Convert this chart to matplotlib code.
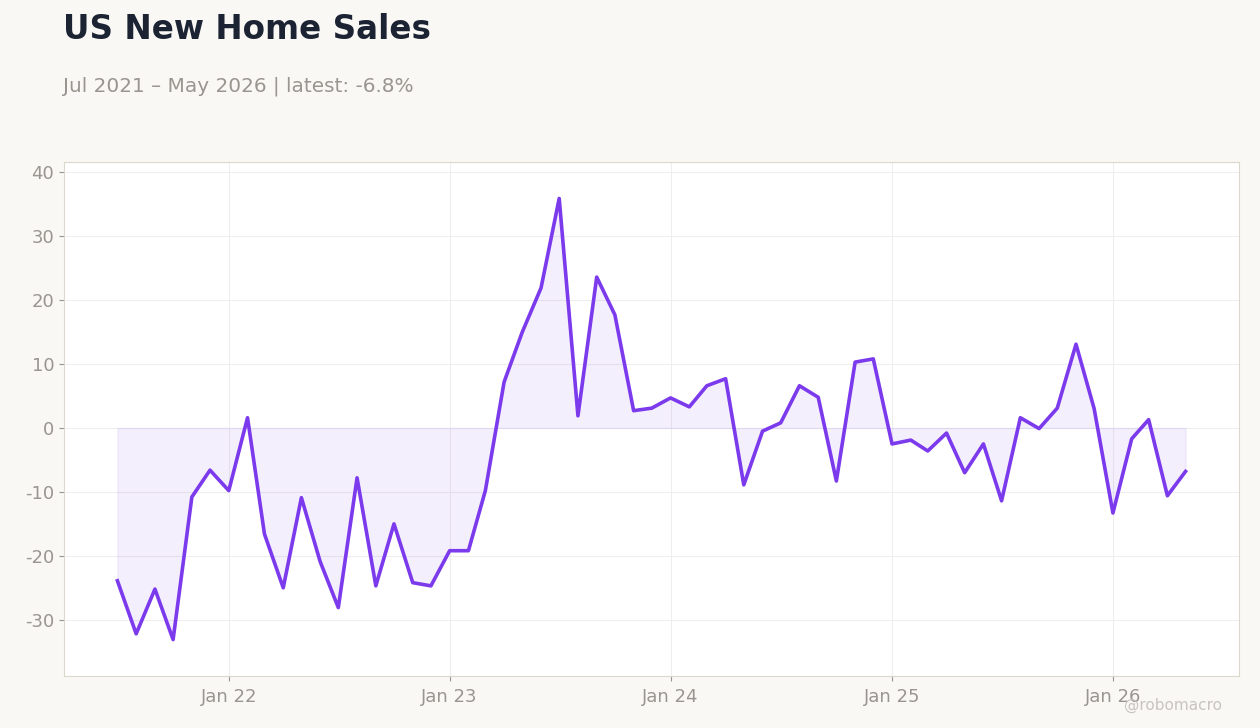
import pandas as pd
import numpy as np
import matplotlib
matplotlib.use('Agg')
import matplotlib.pyplot as plt
import matplotlib.dates as mdates

plt.rcParams['font.family'] = ['DejaVu Sans']
plt.rcParams['axes.unicode_minus'] = False

# monthly % change, Jul 2021 - May 2026
months = pd.date_range('2021-07-01', '2026-05-01', freq='MS')
values = [
    -23.9, -32.2, -25.2, -33.1, -10.8, -6.6,
    -9.8, 1.6, -16.6, -25.0, -10.9, -20.9, -28.1, -7.8, -24.7, -15.0, -24.2, -24.7,
    -19.2, -19.2, -9.8, 7.2, 15.0, 21.9, 35.9, 1.9, 23.6, 17.7, 2.7, 3.1,
    4.7, 3.3, 6.6, 7.7, -8.9, -0.5, 0.8, 6.6, 4.8, -8.3, 10.3, 10.8,
    -2.5, -1.9, -3.6, -0.8, -7.0, -2.5, -11.4, 1.6, -0.1, 3.1, 13.1, 3.0,
    -13.3, -1.7, 1.3, -10.6, -6.8,
]
title = 'US New Home Sales'
subtitle = 'Jul 2021 – May 2026 | latest: -6.8%'

line_color = '#7c3aed'
bg = '#f9f8f5'
tick_color = '#99958f'

fig = plt.figure(figsize=(12.6, 7.28), dpi=100, facecolor=bg)
ax = fig.add_axes([0.0508, 0.0714, 0.9325, 0.7061])
ax.set_facecolor('white')

ax.fill_between(months, values, 0, color=line_color, alpha=0.08, linewidth=1)
ax.plot(months, values, color=line_color, linewidth=2.6)

ax.set_ylim(-38.8, 41.6)
ax.set_yticks([-30, -20, -10, 0, 10, 20, 30, 40])
ax.xaxis.set_major_locator(mdates.YearLocator(month=1))
ax.xaxis.set_major_formatter(mdates.DateFormatter('%b %y'))

ax.grid(True, color='#eeeeee', linewidth=0.8)
ax.set_axisbelow(True)
for s in ax.spines.values():
    s.set_color('#ddd8cc')
ax.tick_params(colors=tick_color, labelsize=13, length=3.5)
ax.tick_params(axis='x', pad=5)

fig.text(0.05, 0.96, title, fontsize=23.5, fontweight='bold', color='#1c2434', va='center', ha='left')
fig.text(0.05, 0.882, subtitle, fontsize=14.4, color='#99958f', va='center', ha='left')
fig.text(0.97, 0.031, '@robomacro', fontsize=11, color='#c8c5c0', va='center', ha='right')

plt.savefig('out.png', dpi=100, facecolor=bg)
